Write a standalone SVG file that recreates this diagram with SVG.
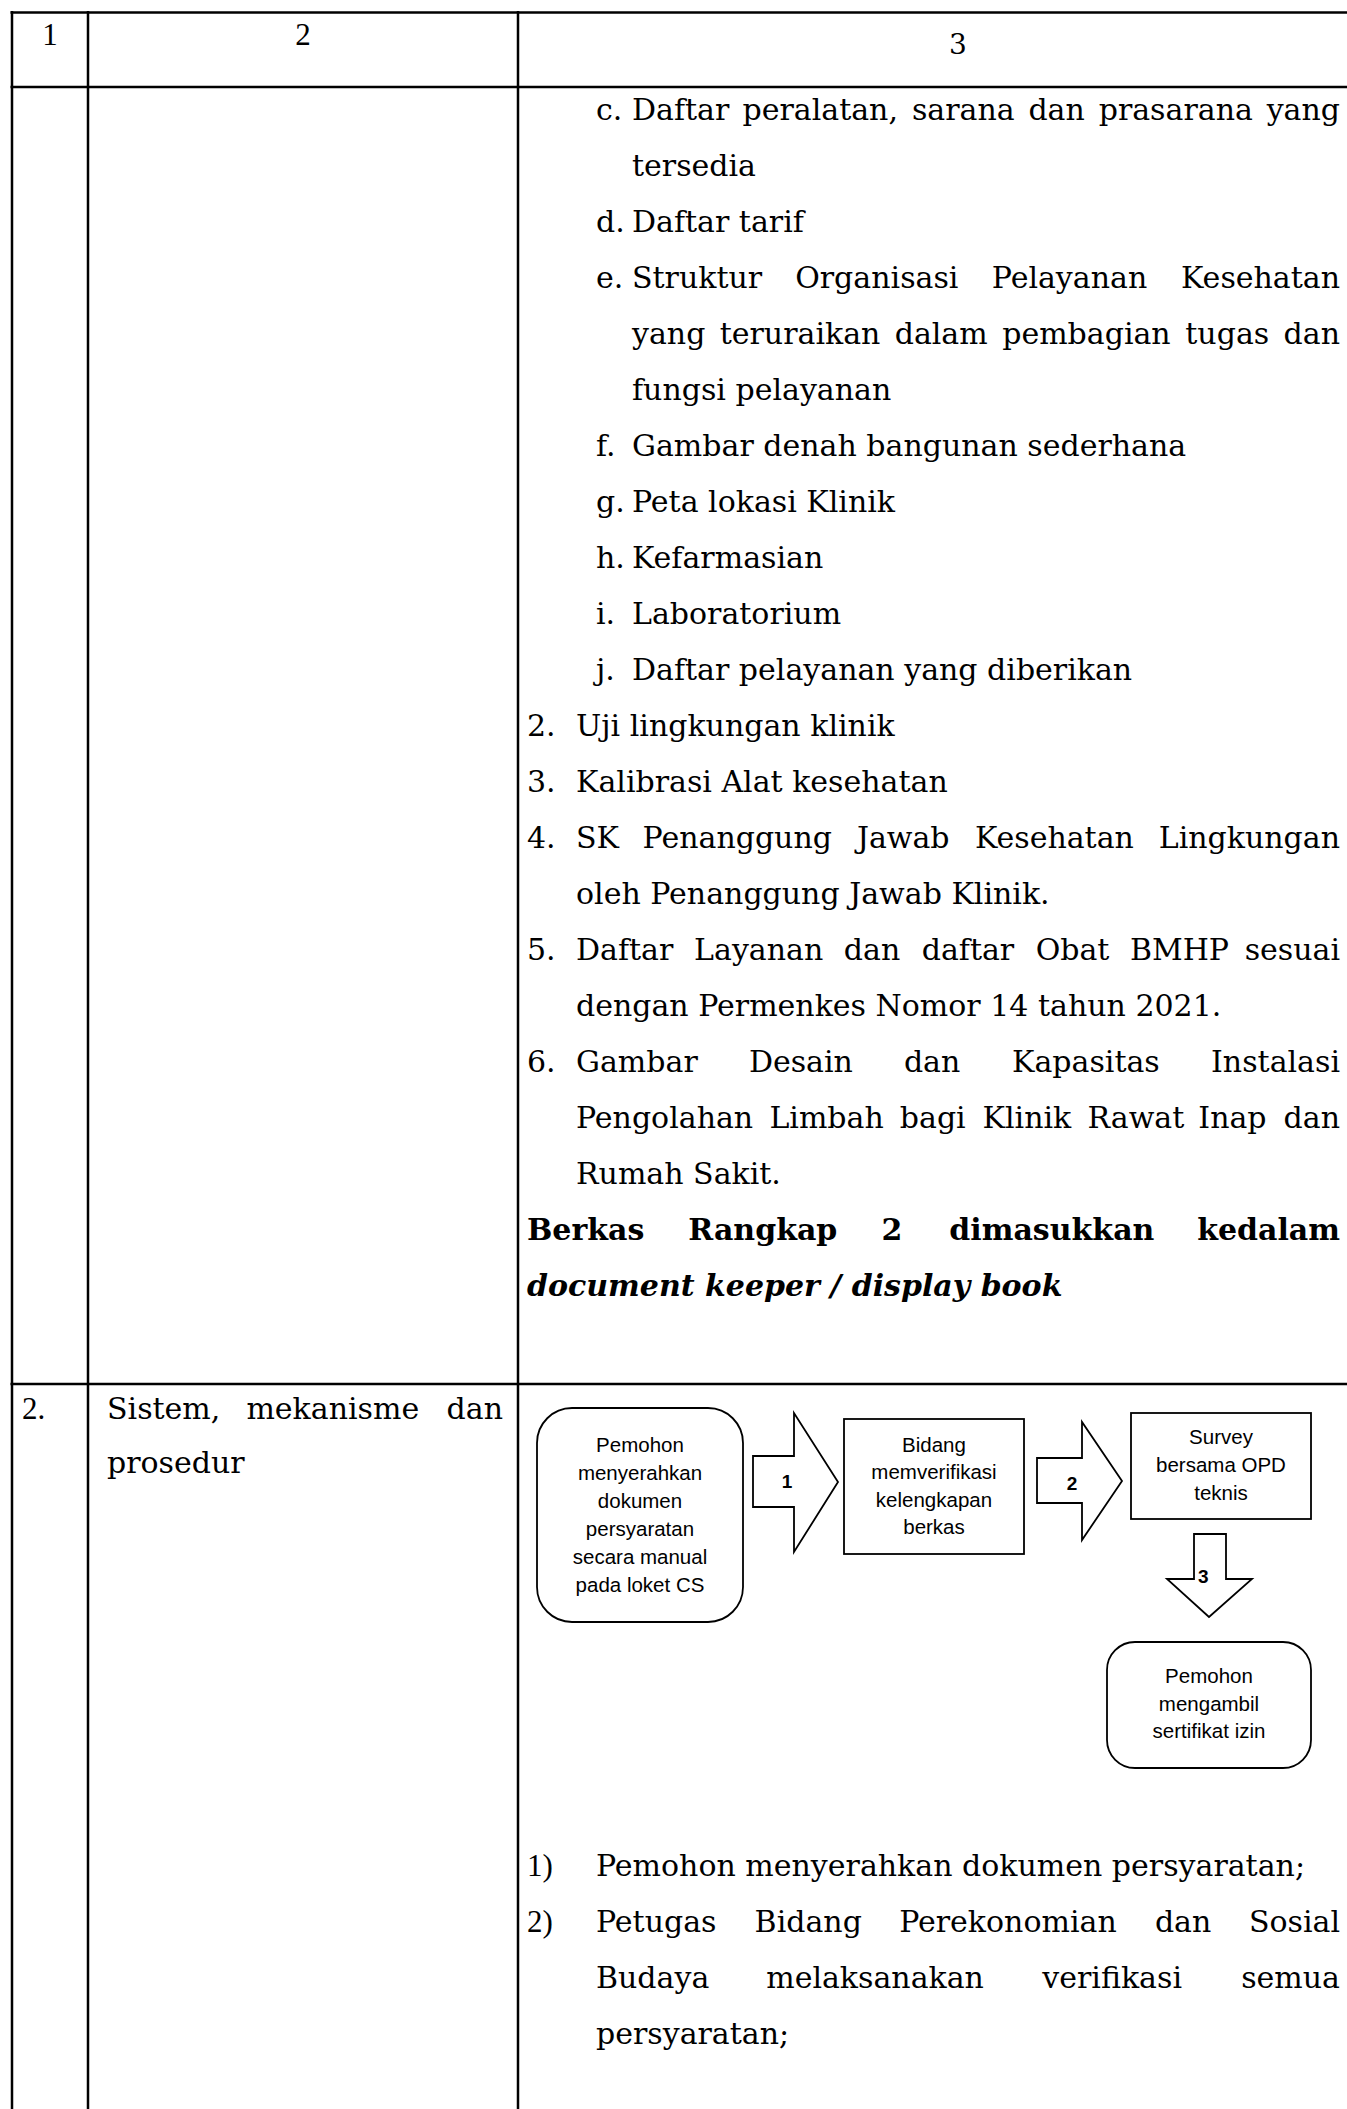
<svg xmlns="http://www.w3.org/2000/svg" width="1347" height="2109" viewBox="0 0 1347 2109">
<style>
.bk{font-family:"DejaVu Serif","Liberation Serif",serif;font-size:30px;fill:#000}
.tm{font-family:"Liberation Serif","DejaVu Serif",serif;font-size:31px;fill:#000}
.ar{font-family:"Liberation Sans",Arial,sans-serif;font-size:20.5px;fill:#000;text-anchor:middle}
.lb{font-family:"Liberation Sans",Arial,sans-serif;font-size:19px;font-weight:bold;fill:#000}
.r{text-anchor:end}
.m{text-anchor:middle}
.b{font-weight:bold}
.bi{font-weight:bold;font-style:italic}
.grid line{stroke:#000;stroke-width:2.5}
.shape{fill:#fff;stroke:#000;stroke-width:1.8}
</style>
<rect width="1347" height="2109" fill="#fff"/>
<g class="grid">
<line x1="10.5" y1="12.5" x2="1347" y2="12.5"/>
<line x1="10.5" y1="87" x2="1347" y2="87"/>
<line x1="10.5" y1="1384" x2="1347" y2="1384"/>
<line x1="12" y1="11" x2="12" y2="2109"/>
<line x1="88" y1="11" x2="88" y2="2109"/>
<line x1="518" y1="11" x2="518" y2="2109"/>
</g>
<g id="header">
<text class="tm m" x="50" y="45">1</text>
<text class="tm m" x="303" y="45">2</text>
<text class="bk m" x="958" y="54" style="font-size:28px">3</text>
</g>
<g id="row1-col3">
<text class="bk" x="596" y="120">c.<tspan x="632">Daftar</tspan><tspan x="742.5">peralatan,</tspan><tspan x="911.9">sarana</tspan><tspan x="1028.4">dan</tspan><tspan x="1098.7">prasarana</tspan></text>
<text class="bk r" x="1340" y="120">yang</text>
<text class="bk" x="632" y="176">tersedia</text>
<text class="bk" x="596" y="232">d.<tspan x="632">Daftar tarif</tspan></text>
<text class="bk" x="596" y="288">e.<tspan x="632">Struktur</tspan><tspan x="795.2">Organisasi</tspan><tspan x="991.8">Pelayanan</tspan></text>
<text class="bk r" x="1340" y="288">Kesehatan</text>
<text class="bk" x="632" y="344">yang<tspan x="719.7">teruraikan</tspan><tspan x="894.7">dalam</tspan><tspan x="1002.2">pembagian</tspan><tspan x="1185.3">tugas</tspan></text>
<text class="bk r" x="1340" y="344">dan</text>
<text class="bk" x="632" y="400">fungsi pelayanan</text>
<text class="bk" x="596" y="456">f.<tspan x="632">Gambar denah bangunan sederhana</tspan></text>
<text class="bk" x="596" y="512">g.<tspan x="632">Peta lokasi Klinik</tspan></text>
<text class="bk" x="596" y="568">h.<tspan x="632">Kefarmasian</tspan></text>
<text class="bk" x="596" y="624">i.<tspan x="632">Laboratorium</tspan></text>
<text class="bk" x="596" y="680">j.<tspan x="632">Daftar pelayanan yang diberikan</tspan></text>
<text class="bk" x="527" y="736">2.<tspan x="576">Uji lingkungan klinik</tspan></text>
<text class="bk" x="527" y="792">3.<tspan x="576">Kalibrasi Alat kesehatan</tspan></text>
<text class="bk" x="527" y="848">4.<tspan x="576">SK</tspan><tspan x="642.6">Penanggung</tspan><tspan x="856.9">Jawab</tspan><tspan x="974.9">Kesehatan</tspan></text>
<text class="bk r" x="1340" y="848">Lingkungan</text>
<text class="bk" x="576" y="904">oleh Penanggung Jawab Klinik.</text>
<text class="bk" x="527" y="960">5.<tspan x="576">Daftar</tspan><tspan x="694.1">Layanan</tspan><tspan x="843.8">dan</tspan><tspan x="921.7">daftar</tspan><tspan x="1035.7">Obat</tspan><tspan x="1129.9">BMHP</tspan></text>
<text class="bk r" x="1340" y="960">sesuai</text>
<text class="bk" x="576" y="1016">dengan Permenkes Nomor 14 tahun 2021.</text>
<text class="bk" x="527" y="1072">6.<tspan x="576">Gambar</tspan><tspan x="748.9">Desain</tspan><tspan x="903.9">dan</tspan><tspan x="1012">Kapasitas</tspan></text>
<text class="bk r" x="1340" y="1072">Instalasi</text>
<text class="bk" x="576" y="1128">Pengolahan<tspan x="769.4">Limbah</tspan><tspan x="899.8">bagi</tspan><tspan x="982.6">Klinik</tspan><tspan x="1087.5">Rawat</tspan><tspan x="1198.3">Inap</tspan></text>
<text class="bk r" x="1340" y="1128">dan</text>
<text class="bk" x="576" y="1184">Rumah Sakit.</text>
<text class="bk b" x="527" y="1240">Berkas<tspan x="688.3">Rangkap</tspan><tspan x="881.5">2</tspan><tspan x="949.3">dimasukkan</tspan></text>
<text class="bk b r" x="1340" y="1240">kedalam</text>
<text class="bk bi" x="527" y="1296">document keeper / display book</text>
</g>
<g id="row2-col1">
<text class="tm" x="22" y="1419">2.</text>
</g>
<g id="row2-col2">
<text class="bk" x="107" y="1419">Sistem,<tspan x="246.4">mekanisme</tspan></text>
<text class="bk r" x="503" y="1419">dan</text>
<text class="bk" x="107" y="1473">prosedur</text>
</g>
<g id="connectors">
<g id="arrow1">
<polygon class="shape" points="753,1456 794,1456 794,1413 838,1482 794,1552 794,1507 753,1507"/>
<text class="lb m" x="787" y="1488">1</text>
</g>
<g id="arrow2">
<polygon class="shape" points="1037,1458 1082,1458 1082,1422 1122,1481 1082,1540 1082,1503 1037,1503"/>
<text class="lb m" x="1072" y="1490">2</text>
</g>
<g id="arrow3">
<polygon class="shape" points="1194,1534 1226,1534 1226,1579 1252,1579 1209,1617 1167,1579 1194,1579"/>
<text class="lb" x="1198" y="1583">3</text>
</g>
</g>
<g id="node-pemohon-menyerahkan">
<rect class="shape" x="537" y="1408" width="206" height="214" rx="35" ry="35"/>
<text class="ar" x="640" y="1452">Pemohon</text>
<text class="ar" x="640" y="1480">menyerahkan</text>
<text class="ar" x="640" y="1508">dokumen</text>
<text class="ar" x="640" y="1536">persyaratan</text>
<text class="ar" x="640" y="1564">secara manual</text>
<text class="ar" x="640" y="1592">pada loket CS</text>
</g>
<g id="node-bidang">
<rect class="shape" x="844" y="1419" width="180" height="135"/>
<text class="ar" x="934" y="1452">Bidang</text>
<text class="ar" x="934" y="1479">memverifikasi</text>
<text class="ar" x="934" y="1507">kelengkapan</text>
<text class="ar" x="934" y="1534">berkas</text>
</g>
<g id="node-survey">
<rect class="shape" x="1131" y="1413" width="180" height="106"/>
<text class="ar" x="1221" y="1444">Survey</text>
<text class="ar" x="1221" y="1472">bersama OPD</text>
<text class="ar" x="1221" y="1500">teknis</text>
</g>
<g id="node-mengambil">
<rect class="shape" x="1107" y="1642" width="204" height="126" rx="28" ry="28"/>
<text class="ar" x="1209" y="1683">Pemohon</text>
<text class="ar" x="1209" y="1711">mengambil</text>
<text class="ar" x="1209" y="1738">sertifikat izin</text>
</g>
<g id="row2-col3-text">
<text class="tm" x="527" y="1876">1)</text>
<text class="bk" x="596" y="1876">Pemohon menyerahkan dokumen persyaratan;</text>
<text class="tm" x="527" y="1932">2)</text>
<text class="bk" x="596" y="1932">Petugas<tspan x="754.6">Bidang</tspan><tspan x="899.2">Perekonomian</tspan><tspan x="1154.9">dan</tspan></text>
<text class="bk r" x="1340" y="1932">Sosial</text>
<text class="bk" x="596" y="1988">Budaya<tspan x="766.2">melaksanakan</tspan><tspan x="1042.3">verifikasi</tspan></text>
<text class="bk r" x="1340" y="1988">semua</text>
<text class="bk" x="596" y="2044">persyaratan;</text>
</g>
</svg>
